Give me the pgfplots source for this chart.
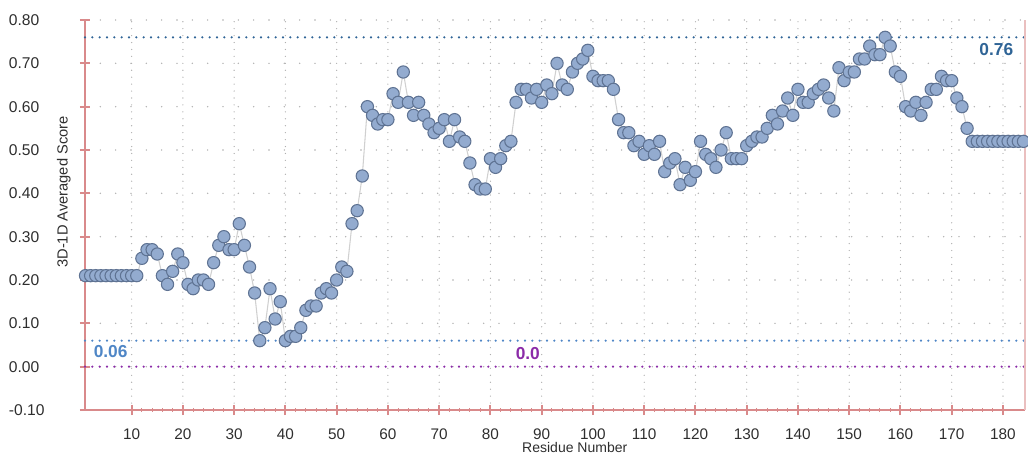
\documentclass[border=0pt]{standalone}
\usepackage{pgfplots}
\pgfplotsset{compat=1.18}
\usepackage{pgfplotstable}
\usepackage{fontspec}
\setmainfont{Liberation Sans}
\definecolor{axred}{HTML}{D98A8B}
\definecolor{mfill}{HTML}{93ABCF}
\definecolor{mdraw}{HTML}{5F7393}
\definecolor{refdark}{HTML}{2F6496}
\definecolor{reflight}{HTML}{4F86C6}
\definecolor{refpurp}{HTML}{8B2BA8}
\definecolor{gridc}{HTML}{AFAFAF}
\definecolor{labc}{HTML}{2E2E2E}
\definecolor{lgray}{HTML}{D0D0D0}

\pgfplotstableread{
r v
1 0.21
2 0.21
3 0.21
4 0.21
5 0.21
6 0.21
7 0.21
8 0.21
9 0.21
10 0.21
11 0.21
12 0.25
13 0.27
14 0.27
15 0.26
16 0.21
17 0.19
18 0.22
19 0.26
20 0.24
21 0.19
22 0.18
23 0.20
24 0.20
25 0.19
26 0.24
27 0.28
28 0.30
29 0.27
30 0.27
31 0.33
32 0.28
33 0.23
34 0.17
35 0.06
36 0.09
37 0.18
38 0.11
39 0.15
40 0.06
41 0.07
42 0.07
43 0.09
44 0.13
45 0.14
46 0.14
47 0.17
48 0.18
49 0.17
50 0.20
51 0.23
52 0.22
53 0.33
54 0.36
55 0.44
56 0.60
57 0.58
58 0.56
59 0.57
60 0.57
61 0.63
62 0.61
63 0.68
64 0.61
65 0.58
66 0.61
67 0.58
68 0.56
69 0.54
70 0.55
71 0.57
72 0.52
73 0.57
74 0.53
75 0.52
76 0.47
77 0.42
78 0.41
79 0.41
80 0.48
81 0.46
82 0.48
83 0.51
84 0.52
85 0.61
86 0.64
87 0.64
88 0.62
89 0.64
90 0.61
91 0.65
92 0.63
93 0.70
94 0.65
95 0.64
96 0.68
97 0.70
98 0.71
99 0.73
100 0.67
101 0.66
102 0.66
103 0.66
104 0.64
105 0.57
106 0.54
107 0.54
108 0.51
109 0.52
110 0.49
111 0.51
112 0.49
113 0.52
114 0.45
115 0.47
116 0.48
117 0.42
118 0.46
119 0.43
120 0.45
121 0.52
122 0.49
123 0.48
124 0.46
125 0.50
126 0.54
127 0.48
128 0.48
129 0.48
130 0.51
131 0.52
132 0.53
133 0.53
134 0.55
135 0.58
136 0.56
137 0.59
138 0.62
139 0.58
140 0.64
141 0.61
142 0.61
143 0.63
144 0.64
145 0.65
146 0.62
147 0.59
148 0.69
149 0.66
150 0.68
151 0.68
152 0.71
153 0.71
154 0.74
155 0.72
156 0.72
157 0.76
158 0.74
159 0.68
160 0.67
161 0.60
162 0.59
163 0.61
164 0.58
165 0.61
166 0.64
167 0.64
168 0.67
169 0.66
170 0.66
171 0.62
172 0.60
173 0.55
174 0.52
175 0.52
176 0.52
177 0.52
178 0.52
179 0.52
180 0.52
181 0.52
182 0.52
183 0.52
184 0.52
}\scoredata

\begin{document}
\begin{tikzpicture}
\useasboundingbox (-63.75pt,-33pt) rectangle (707.25pt,307.5pt);
\begin{axis}[
  at={(0,0)}, anchor=south west,
  scale only axis, width=705pt, height=292.5pt,
  xmin=0.9, xmax=184.3, ymin=-0.1, ymax=0.8,
  clip=false,
  axis x line*=bottom, axis y line*=left,
  axis line style={-, axred, line width=2pt},
  xtick={10,20,30,40,50,60,70,80,90,100,110,120,130,140,150,160,170,180},
  ytick={-0.1,0,0.1,0.2,0.3,0.4,0.5,0.6,0.7,0.8},
  minor x tick num=4,
  tick align=center,
  major tick length=7.5pt, minor tick length=2.5pt,
  tick style={axred, line width=1.5pt},
  minor tick style={axred, line width=0.7pt},
  xmajorgrids, ymajorgrids,
  x grid style={gridc, line width=1pt, line cap=round, dash pattern=on 0pt off 5.2pt},
  y grid style={gridc, line width=1.2pt, line cap=round, dash pattern=on 0pt off 11.5pt},
  /pgf/number format/assume math mode=true,
  scaled y ticks=false,
  yticklabel style={/pgf/number format/.cd, fixed, fixed zerofill, precision=2, /tikz/.cd,
     anchor=west, xshift=-53.5pt, inner sep=0pt, font=\fontsize{11.7}{13}\selectfont, text=labc},
  xticklabel style={inner sep=0pt, yshift=-10pt, font=\fontsize{11.5}{13}\selectfont, text=labc},
  every axis x label/.style={at={(axis description cs:0.521,0)}, anchor=north, inner sep=0pt, yshift=-24pt, font=\fontsize{10.5}{12}\selectfont, text=labc},
  every axis y label/.style={at={(axis description cs:-0.0149,0.559)}, rotate=90, anchor=south, inner sep=0pt, font=\fontsize{11}{12}\selectfont, text=labc},
  xlabel={Residue Number},
  ylabel={3D-1D Averaged Score},
]
\addplot[refdark, line width=1.8pt, line cap=round, dash pattern=on 0pt off 5.5pt, forget plot] coordinates {(0.9,0.76) (184.3,0.76)};
\addplot[reflight, line width=1.8pt, line cap=round, dash pattern=on 0pt off 5.5pt, forget plot] coordinates {(0.9,0.06) (184.3,0.06)};
\addplot[refpurp, line width=1.8pt, line cap=round, dash pattern=on 0pt off 5.5pt, forget plot] coordinates {(0.9,0) (184.3,0)};
\addplot[lgray, line width=0.8pt, mark=*, mark size=4.6pt,
  mark options={fill=mfill, draw=mdraw, line width=0.8pt, solid}] table[x=r, y=v] {\scoredata};
\draw[axred!55, line width=1pt] (rel axis cs:1,0) -- (rel axis cs:1,1);
\node[text=refdark, font=\bfseries\fontsize{13}{15}\selectfont] at (axis cs:178.7,0.733) {0.76};
\node[text=reflight, font=\bfseries\fontsize{13}{15}\selectfont] at (axis cs:5.9,0.034) {0.06};
\node[text=refpurp, font=\bfseries\fontsize{13}{15}\selectfont] at (axis cs:87.3,0.031) {0.0};
\end{axis}
\end{tikzpicture}
\end{document}
